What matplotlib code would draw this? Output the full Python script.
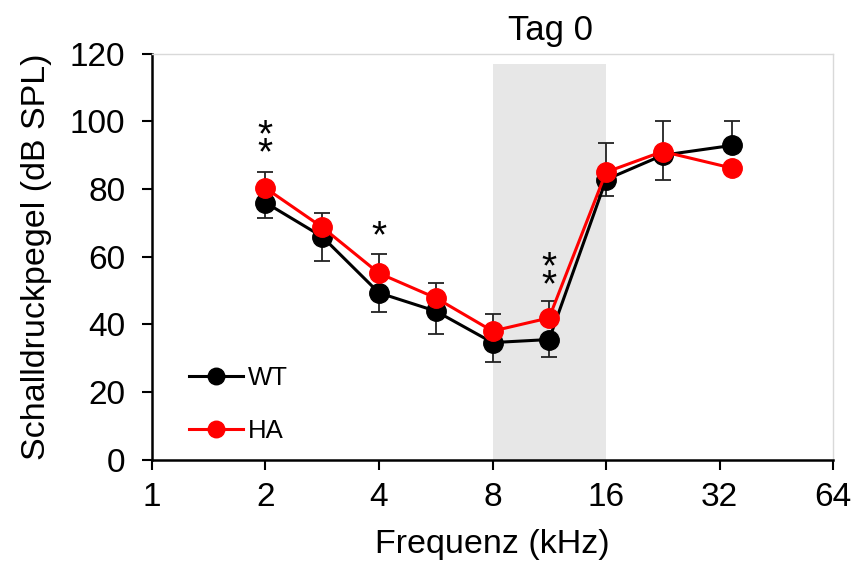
import matplotlib
matplotlib.use("Agg")
import matplotlib.pyplot as plt
from matplotlib.ticker import FixedLocator, NullLocator

plt.rcParams['font.family'] = ['Liberation Sans', 'DejaVu Sans']

# data
freq = [2, 2.83, 4, 5.66, 8, 11.3, 16, 22.6, 34.5]
wt = [76.0, 65.9, 49.3, 43.9, 34.6, 35.5, 82.8, 90.0, 92.9]
ha = [80.3, 68.7, 55.1, 47.8, 38.0, 41.9, 85.0, 91.1, 86.2]
wt_err_lo = [4.7, 7.2, 5.6, 6.7, 5.6, 5.3, 4.8, 7.3, 0]
wt_err_hi = [0, 0, 0, 0, 0, 0, 0, 0, 7.3]
ha_err_lo = [0, 0, 0, 0, 0, 0, 0, 0, 0]
ha_err_hi = [4.7, 4.1, 5.7, 4.5, 5.0, 5.1, 8.6, 9.1, 0]

# significance marks: (x, y, text)
stars = [(2, 93.0, "*\n*"), (4, 65.6, "*"), (11.3, 54.0, "*\n*")]

band_lo, band_hi, band_top = 8, 16, 117
xticks = [1, 2, 4, 8, 16, 32, 64]
yticks = [0, 20, 40, 60, 80, 100, 120]

fig = plt.figure(figsize=(8.53, 5.66), dpi=100)
ax = fig.add_axes([0.178, 0.188, 0.7988, 0.717])

ax.axvspan(band_lo, band_hi, ymin=0, ymax=band_top / 120, color="#e7e7e7", lw=0, zorder=0)

ax.errorbar(freq, wt, yerr=[wt_err_lo, wt_err_hi], fmt="none", ecolor="#222222",
            elinewidth=1.3, capsize=6, capthick=1.3, zorder=2)
ax.errorbar(freq, ha, yerr=[ha_err_lo, ha_err_hi], fmt="none", ecolor="#222222",
            elinewidth=1.3, capsize=6, capthick=1.3, zorder=2)
ax.plot(freq, wt, color="black", lw=2.2, marker="o", ms=14, label="WT", zorder=3)
ax.plot(freq, ha, color="#ff0000", lw=2.2, marker="o", ms=14, label="HA", zorder=4)

for x, y, s in stars:
    ax.text(x, y, s, ha="center", va="center", fontsize=28, color="black",
            linespacing=0.36)

ax.set_xscale("log", base=2)
ax.set_xlim(1, 64)
ax.set_ylim(0, 120)
ax.xaxis.set_major_locator(FixedLocator(xticks))
ax.xaxis.set_minor_locator(NullLocator())
ax.set_xticklabels([str(t) for t in xticks])
ax.set_yticks(yticks)
ax.tick_params(axis="both", labelsize=24, width=1.5, length=7, direction="out", color="black")
ax.tick_params(axis="x", pad=9)
ax.tick_params(axis="y", pad=12)

for side in ["left", "bottom"]:
    ax.spines[side].set_linewidth(1.8)
    ax.spines[side].set_color("black")
for side in ["top", "right"]:
    ax.spines[side].set_linewidth(1.0)
    ax.spines[side].set_color("#d9d9d9")

ax.set_xlabel("Frequenz (kHz)", fontsize=24.5, labelpad=12)
ax.set_ylabel("Schalldruckpegel (dB SPL)", fontsize=24.5, labelpad=13)
ax.set_title("Tag 0", fontsize=25, pad=10, x=(550 - 152) / 681)

ax.legend(loc="lower left", bbox_to_anchor=(0.02, -0.015), frameon=False, fontsize=18.5,
          handlelength=2.1, handletextpad=0.2, labelspacing=1.1, markerscale=0.85)

fig.savefig("out.png", dpi=100)
